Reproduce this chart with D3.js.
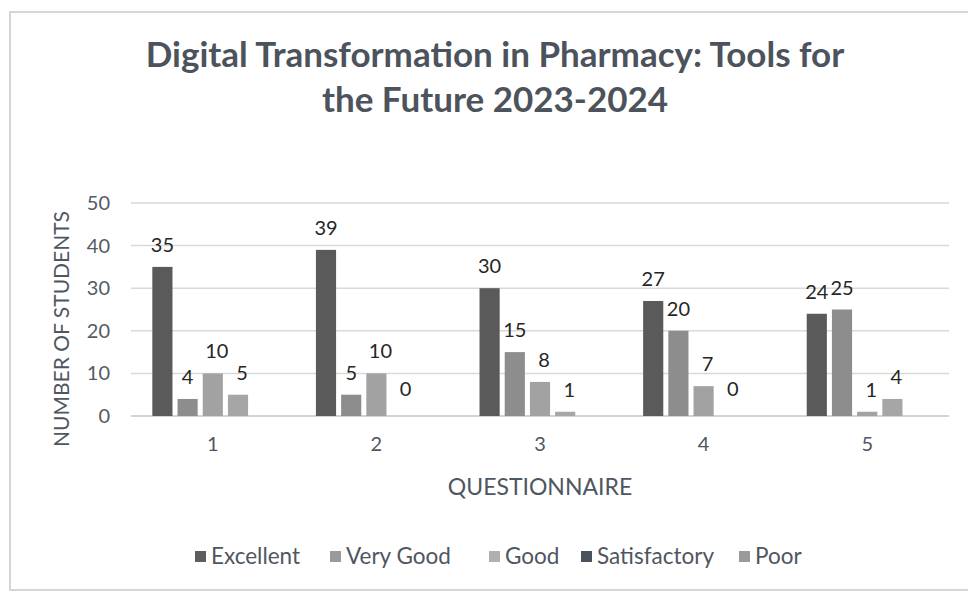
<!DOCTYPE html>
<html>
<head>
<meta charset="utf-8">
<script src="https://cdn.jsdelivr.net/npm/d3@7"></script>
<style>
  body { margin: 0; background: #fff; }
  text { font-family: Lato, "Open Sans", sans-serif; }
</style>
</head>
<body>
<div id="chart"></div>
<script>
// data
var questions = ["1", "2", "3", "4", "5"];
var seriesNames = ["Excellent", "Very Good", "Good", "Satisfactory", "Poor"];
var excellent = [35, 39, 30, 27, 24];
var veryGood = [4, 5, 15, 20, 25];
var good = [10, 10, 8, 7, 1];
var satisfactory = [5, 0, 1, 0, 4];
var poor = [null, null, null, null, null];
var yTicks = [0, 10, 20, 30, 40, 50];

var seriesColors = ["#5a5a5a", "#8d8d8d", "#a2a2a2", "#a6a6a6", "#8f8f8f"];
var legendColors = ["#5e5e5e", "#9a9a9a", "#b0b0b0", "#4a525b", "#9a9a9a"];

var allSeries = [excellent, veryGood, good, satisfactory, poor];

var w = 968, h = 594;
var svg = d3.select("#chart").append("svg")
  .attr("width", w)
  .attr("height", h);

// outer frame of the scanned chart
svg.append("rect")
  .attr("x", 10).attr("y", 12)
  .attr("width", 980).attr("height", 578)
  .attr("fill", "#fff")
  .attr("stroke", "#d6d6d6")
  .attr("stroke-width", 2);

// title
var title = svg.append("text")
  .attr("text-anchor", "middle")
  .attr("fill", "#4c535c")
  .attr("font-weight", "bold")
  .attr("font-size", "35px");
title.append("tspan").attr("x", 495).attr("y", 67).text("Digital Transformation in Pharmacy: Tools for");
title.append("tspan").attr("x", 495).attr("y", 112).text("the Future 2023-2024");

// scales
var x0 = d3.scaleBand().domain(questions).range([131, 949]);
var x1 = d3.scaleBand().domain(seriesNames)
  .range([x0.bandwidth() / 2 - 63, x0.bandwidth() / 2 + 63])
  .paddingInner(0.2).paddingOuter(0.1);
var y = d3.scaleLinear().domain([0, 50]).range([416, 203]);

// gridlines
svg.append("g")
  .selectAll("line")
  .data(yTicks)
  .enter()
  .append("line")
  .attr("x1", 131).attr("x2", 949)
  .attr("y1", function(d) { return y(d); })
  .attr("y2", function(d) { return y(d); })
  .attr("stroke", function(d) { return d === 0 ? "#c4c4c4" : "#d9d9d9"; })
  .attr("stroke-width", 1.5);

// y axis labels
var yAxis = svg.append("g")
  .attr("transform", "translate(118,0)")
  .call(d3.axisLeft(y).tickValues(yTicks).tickSize(0).tickPadding(8));
yAxis.select(".domain").remove();
yAxis.selectAll("text")
  .attr("font-family", "Lato, 'Open Sans', sans-serif")
  .attr("font-size", "20px")
  .attr("fill", "#555b63");

// x axis labels
var xAxis = svg.append("g")
  .attr("transform", "translate(0,427)")
  .call(d3.axisBottom(x0).tickSize(0).tickPadding(10));
xAxis.select(".domain").remove();
xAxis.selectAll("text")
  .attr("font-family", "Lato, 'Open Sans', sans-serif")
  .attr("font-size", "20px")
  .attr("fill", "#4f5660");

// axis titles
svg.append("text")
  .attr("transform", "translate(69,329) rotate(-90)")
  .attr("text-anchor", "middle")
  .attr("font-size", "21px")
  .attr("fill", "#4f5660")
  .text("NUMBER OF STUDENTS");

svg.append("text")
  .attr("x", 540).attr("y", 495)
  .attr("text-anchor", "middle")
  .attr("font-size", "23px")
  .attr("fill", "#4f5660")
  .text("QUESTIONNAIRE");

// bars
var groups = svg.append("g")
  .selectAll("g")
  .data(questions)
  .enter()
  .append("g")
  .attr("transform", function(d) { return "translate(" + x0(d) + ",0)"; });

var cells = groups.selectAll("g")
  .data(function(q, qi) {
    return seriesNames.map(function(s, si) {
      return { series: s, si: si, value: allSeries[si][qi] };
    }).filter(function(d) { return d.value !== null; });
  })
  .enter()
  .append("g");

cells.append("rect")
  .attr("x", function(d) { return x1(d.series); })
  .attr("y", function(d) { return y(d.value); })
  .attr("width", x1.bandwidth())
  .attr("height", function(d) { return y(0) - y(d.value); })
  .attr("fill", function(d) { return seriesColors[d.si]; });

cells.append("text")
  .attr("x", function(d) { return x1(d.series) + x1.bandwidth() / 2 + (d.si > 1 ? 4 : 0); })
  .attr("y", function(d) { return y(d.value) - (d.value === 0 ? 20 : 15); })
  .attr("text-anchor", "middle")
  .attr("font-size", "20px")
  .attr("fill", "#262626")
  .text(function(d) { return d.value; });

// legend
var legendX = [195, 330, 489, 581, 739];
var legend = svg.append("g")
  .selectAll("g")
  .data(seriesNames)
  .enter()
  .append("g")
  .attr("transform", function(d, i) { return "translate(" + legendX[i] + ",551)"; });

legend.append("rect")
  .attr("width", 11).attr("height", 11)
  .attr("fill", function(d, i) { return legendColors[i]; });

legend.append("text")
  .attr("x", 16).attr("y", 13)
  .attr("font-size", "22.5px")
  .attr("fill", "#4f5660")
  .text(function(d) { return d; });
</script>
</body>
</html>
